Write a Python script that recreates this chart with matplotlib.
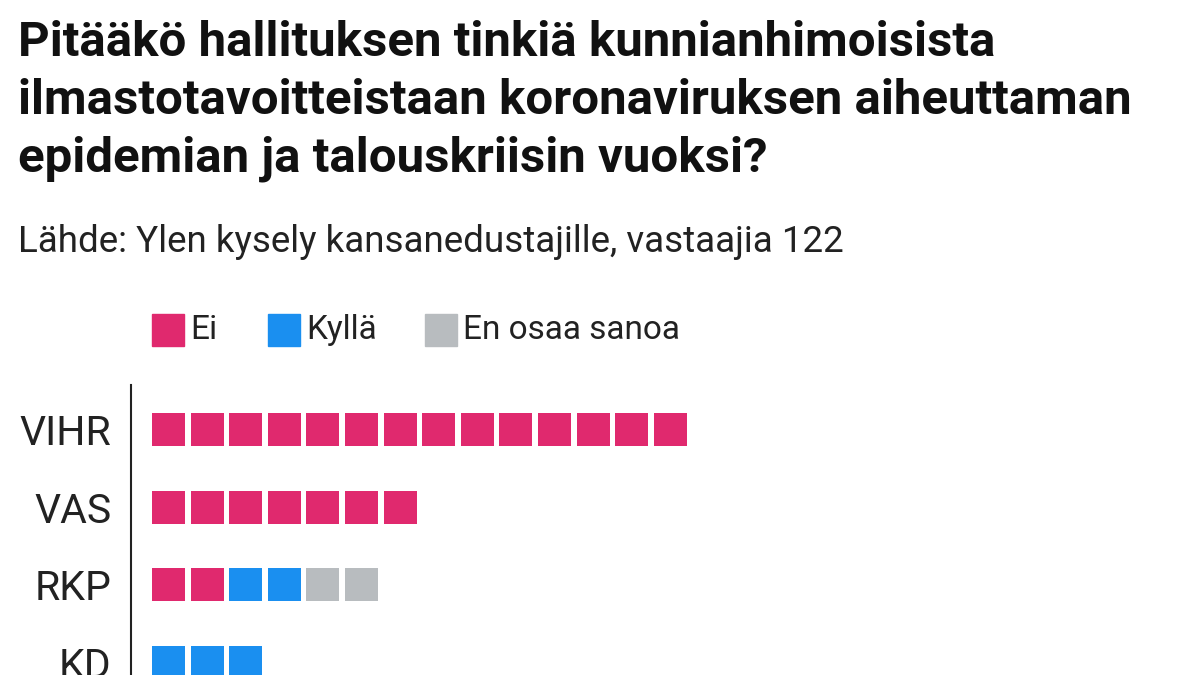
import matplotlib
matplotlib.use("Agg")
import matplotlib.pyplot as plt
from matplotlib.patches import Rectangle

plt.rcParams['font.family'] = ['Roboto', 'DejaVu Sans']

parties = ["VIHR", "VAS", "RKP", "KD"]
ei = [14, 7, 2, 0]
kylla = [0, 0, 2, 3]
eos = [0, 0, 2, 0]
series_names = ["Ei", "Kyllä", "En osaa sanoa"]
colors = ["#e0296e", "#1a8ff0", "#b8bcbf"]

W, H = 1200, 675
fig = plt.figure(figsize=(12, 6.75), dpi=100)

def fx(px):
    return px / W

def fy(py):
    return 1 - py / H

fig.text(fx(18), fy(20), "Pitääkö hallituksen tinkiä kunnianhimoisista\n"
         "ilmastotavoitteistaan koronaviruksen aiheuttaman\n"
         "epidemian ja talouskriisin vuoksi?",
         ha="left", va="top", fontsize=35.5, fontweight="bold",
         linespacing=1.33, color="#111111")
fig.text(fx(18), fy(242), "Lähde: Ylen kysely kansanedustajille, vastaajia 122",
         ha="left", va="center", fontsize=26.5, color="#222222")

# legend
leg_x = [152, 268, 425]
for x, name, c in zip(leg_x, series_names, colors):
    fig.patches.append(Rectangle((fx(x), fy(346)), 32 / W, 32 / H,
                                 transform=fig.transFigure, color=c))
    fig.text(fx(x + 38), fy(330), name, ha="left", va="center",
             fontsize=24, color="#222222")

pitch = 38.6
rowpitch = 77.5
ax = fig.add_axes([fx(131), 0, 1 - fx(131), fy(385)])
ax.set_xlim(-21 / pitch, (W - 152) / pitch)
ax.set_ylim(3 + 13 / rowpitch, -45 / rowpitch)

for r, p in enumerate(parties):
    counts = [ei[r], kylla[r], eos[r]]
    i = 0
    for n, c in zip(counts, colors):
        for _ in range(n):
            ax.barh(r, 33 / pitch, left=i, height=33 / rowpitch, color=c)
            i += 1

ax.set_yticks(range(len(parties)))
ax.set_yticklabels(parties, fontsize=29.5, color="#222222")
ax.tick_params(axis="y", length=0, pad=14)
ax.set_xticks([])
for s in ["top", "right", "bottom"]:
    ax.spines[s].set_visible(False)
ax.spines["left"].set_linewidth(1.5)
ax.spines["left"].set_color("#222222")

fig.savefig("out.png", dpi=100)
